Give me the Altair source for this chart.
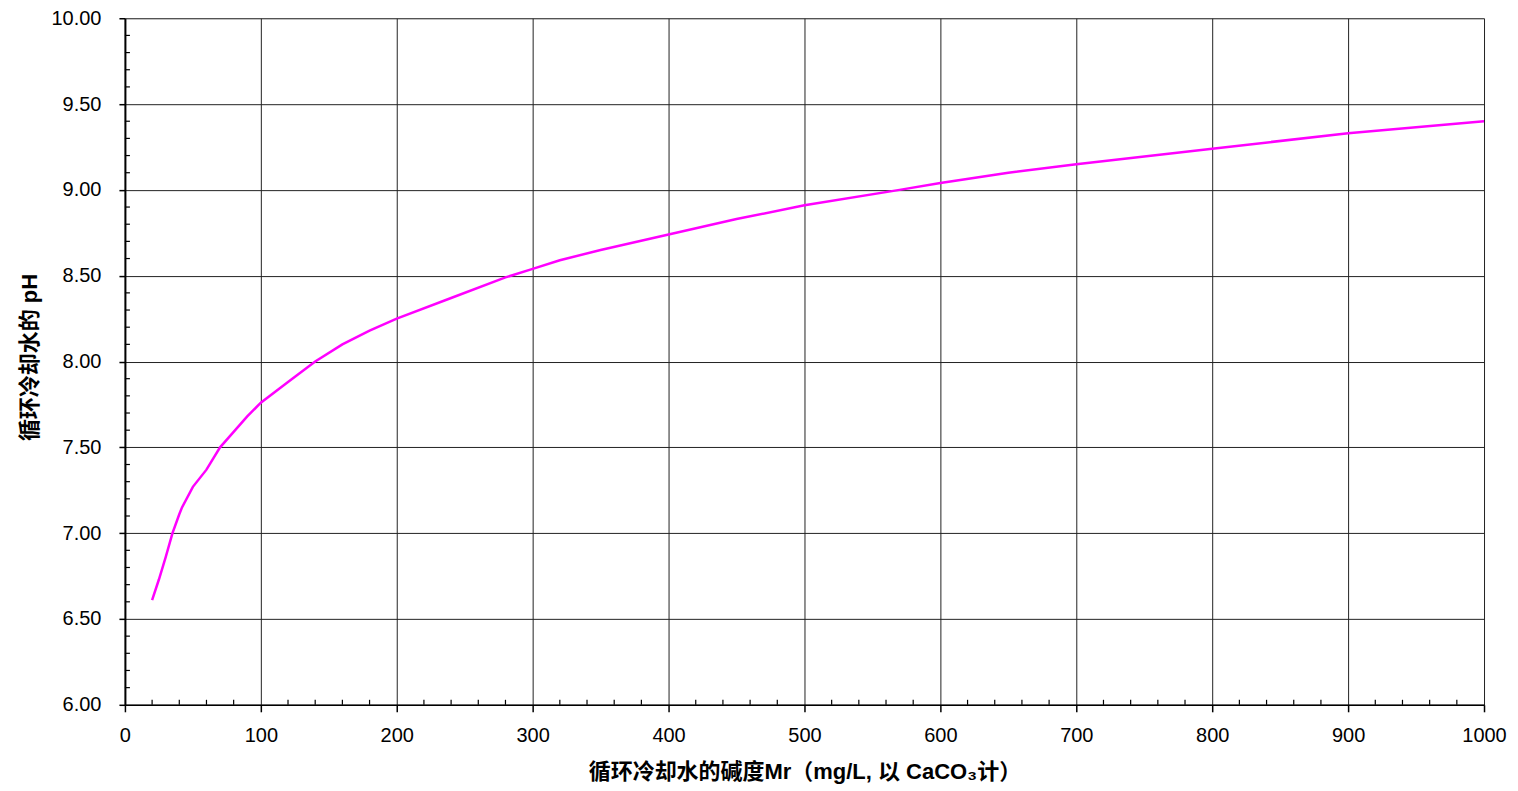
import altair as alt
import pandas as pd

# Data
alkalinity = [20, 25, 30, 35, 40, 42, 50, 60, 70, 80, 90, 100, 120, 140, 160, 180,
              200, 240, 280, 300, 320, 350, 400, 450, 500, 570, 600, 650, 700, 800, 900, 1000]
ph = [6.61, 6.73, 6.86, 7.00, 7.11, 7.15, 7.27, 7.37, 7.50, 7.59, 7.68, 7.76, 7.88, 8.00, 8.10, 8.18,
      8.25, 8.37, 8.49, 8.54, 8.59, 8.65, 8.74, 8.83, 8.91, 9.00, 9.04, 9.10, 9.15, 9.24, 9.33, 9.40]

x_major = [0, 100, 200, 300, 400, 500, 600, 700, 800, 900, 1000]
y_major = [6.0, 6.5, 7.0, 7.5, 8.0, 8.5, 9.0, 9.5, 10.0]
x_minor = [v for v in range(0, 1001, 20) if v % 100 != 0]
y_minor = [round(6 + i * 0.1, 2) for i in range(41) if i % 5 != 0]

W, H = 1360, 687
FONT = "Liberation Sans, Arial, 'Noto Sans CJK SC', sans-serif"

df = pd.DataFrame({"x": alkalinity, "y": ph})
xm = pd.DataFrame({"x": x_minor})
ym = pd.DataFrame({"y": y_minor})

xscale = alt.Scale(domain=[0, 1000], nice=False, zero=False)
yscale = alt.Scale(domain=[6, 10], nice=False, zero=False)

line = alt.Chart(df).mark_line(color="#FF00FF", strokeWidth=2.5).encode(
    x=alt.X("x:Q", scale=xscale,
            axis=alt.Axis(values=x_major, format="d", grid=True, gridColor="#222222",
                          gridWidth=1, domainColor="#000000", domainWidth=1.5,
                          tickColor="#000000", tickSize=7, tickWidth=1.5,
                          labelFontSize=20, labelFont=FONT, labelColor="#000000",
                          labelPadding=14, labelFlush=False, labelOverlap=False,
                          title="循环冷却水的碱度Mr（mg/L, 以 CaCO₃计）",
                          titleFont=FONT, titleFontSize=22, titleFontWeight="bold",
                          titleColor="#000000", titleX=680, titleY=67,
                          titleAlign="center", titleBaseline="middle")),
    y=alt.Y("y:Q", scale=yscale,
            axis=alt.Axis(values=y_major, format=".2f", grid=True, gridColor="#222222",
                          gridWidth=1, domainColor="#000000", domainWidth=2,
                          tickColor="#000000", tickSize=6, tickWidth=1.5,
                          labelFontSize=20, labelFont=FONT, labelColor="#000000",
                          labelPadding=18, labelFlush=False, labelOverlap=False,
                          title="循环冷却水的 pH",
                          titleFont=FONT, titleFontSize=22, titleFontWeight="bold",
                          titleColor="#000000", titleX=-95, titleY=339,
                          titleAlign="center", titleBaseline="middle", titleAngle=270)),
)

xminor = alt.Chart(xm).mark_rule(color="#000000", strokeWidth=1.2).encode(
    x=alt.X("x:Q", scale=xscale),
    y=alt.value(H - 5), y2=alt.value(H),
)
yminor = alt.Chart(ym).mark_rule(color="#000000", strokeWidth=1.2).encode(
    y=alt.Y("y:Q", scale=yscale),
    x=alt.value(0), x2=alt.value(5),
)

chart = alt.layer(xminor, yminor, line).properties(
    width=W, height=H,
    autosize=alt.AutoSizeParams(type="none"),
    padding={"left": 117, "top": 10, "right": 26, "bottom": 81},
).configure_view(stroke=None).configure(background="#FFFFFF")

chart.save("out.html", embed_options={"renderer": "svg", "actions": False})
